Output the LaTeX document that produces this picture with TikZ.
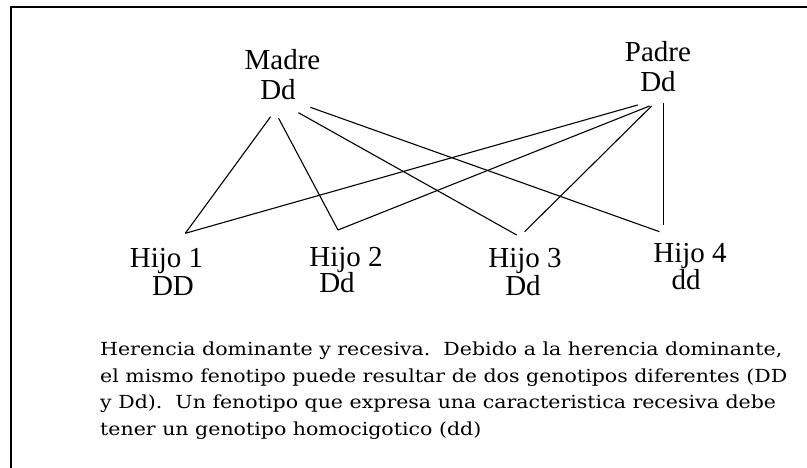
\documentclass[tikz,border=0pt]{standalone}
\usepackage{fontspec}
\setmainfont{Liberation Serif}
\newfontfamily\capfont[FakeStretch=1.14]{DejaVu Serif}
\begin{document}
\begin{tikzpicture}[x=1pt,y=-1pt,
  lbl/.style={inner sep=0pt,anchor=base,font=\fontsize{29}{30}\selectfont},
  capline/.style={inner sep=0pt,anchor=base west,font=\capfont\fontsize{18}{20}\selectfont},
  link/.style={line width=1.1pt,black}]
\useasboundingbox (0,0) rectangle (807,468);
\draw[line width=2pt] (11,468) -- (11,7) -- (807,7);
% parents
\node[lbl] (madre) at (282.5,70) {Madre};
\node[lbl] (madredd) at (278,100) {Dd};
\node[lbl] (padre) at (658,62) {Padre};
\node[lbl] (padredd) at (658,92) {Dd};
% children
\node[lbl] (h1) at (166.5,268) {Hijo 1};
\node[lbl] (h1g) at (173,295) {DD};
\node[lbl] (h2) at (346,266) {Hijo 2};
\node[lbl] (h2g) at (337,293) {Dd};
\node[lbl] (h3) at (525,268) {Hijo 3};
\node[lbl] (h3g) at (523,295) {Dd};
\node[lbl] (h4) at (690,262) {Hijo 4};
\node[lbl] (h4g) at (686,290) {dd};
% connector end points
\coordinate (ma) at (270.6,116.7);
\coordinate (mb) at (278.6,118.3);
\coordinate (mc) at (298.4,112.7);
\coordinate (md) at (310.3,107.3);
\coordinate (pa) at (637.7,105);
\coordinate (pb) at (649.6,106);
\coordinate (pc) at (651.6,106);
\coordinate (pd) at (663.5,103.3);
\coordinate (c1) at (185.3,233.3);
\coordinate (c2) at (338,230);
\coordinate (c3a) at (516.7,235);
\coordinate (c3b) at (524.6,231.7);
\coordinate (c4a) at (659.5,231.7);
\coordinate (c4b) at (663.5,225);
\draw[link] (ma) -- (c1);
\draw[link] (mb) -- (c2);
\draw[link] (mc) -- (c3a);
\draw[link] (md) -- (c4a);
\draw[link] (pa) -- (c1);
\draw[link] (pb) -- (c2);
\draw[link] (pc) -- (c3b);
\draw[link] (pd) -- (c4b);
% caption
\node[capline] (cap1) at (100,355.7) {Herencia dominante y recesiva.\ \ Debido a la herencia dominante,};
\node[capline] (cap2) at (100,382) {el mismo fenotipo puede resultar de dos genotipos diferentes (DD};
\node[capline] (cap3) at (100,408.5) {y Dd).\ \ Un fenotipo que expresa una caracteristica recesiva debe};
\node[capline] (cap4) at (100,435) {tener un genotipo homocigotico (dd)};
\end{tikzpicture}
\end{document}
